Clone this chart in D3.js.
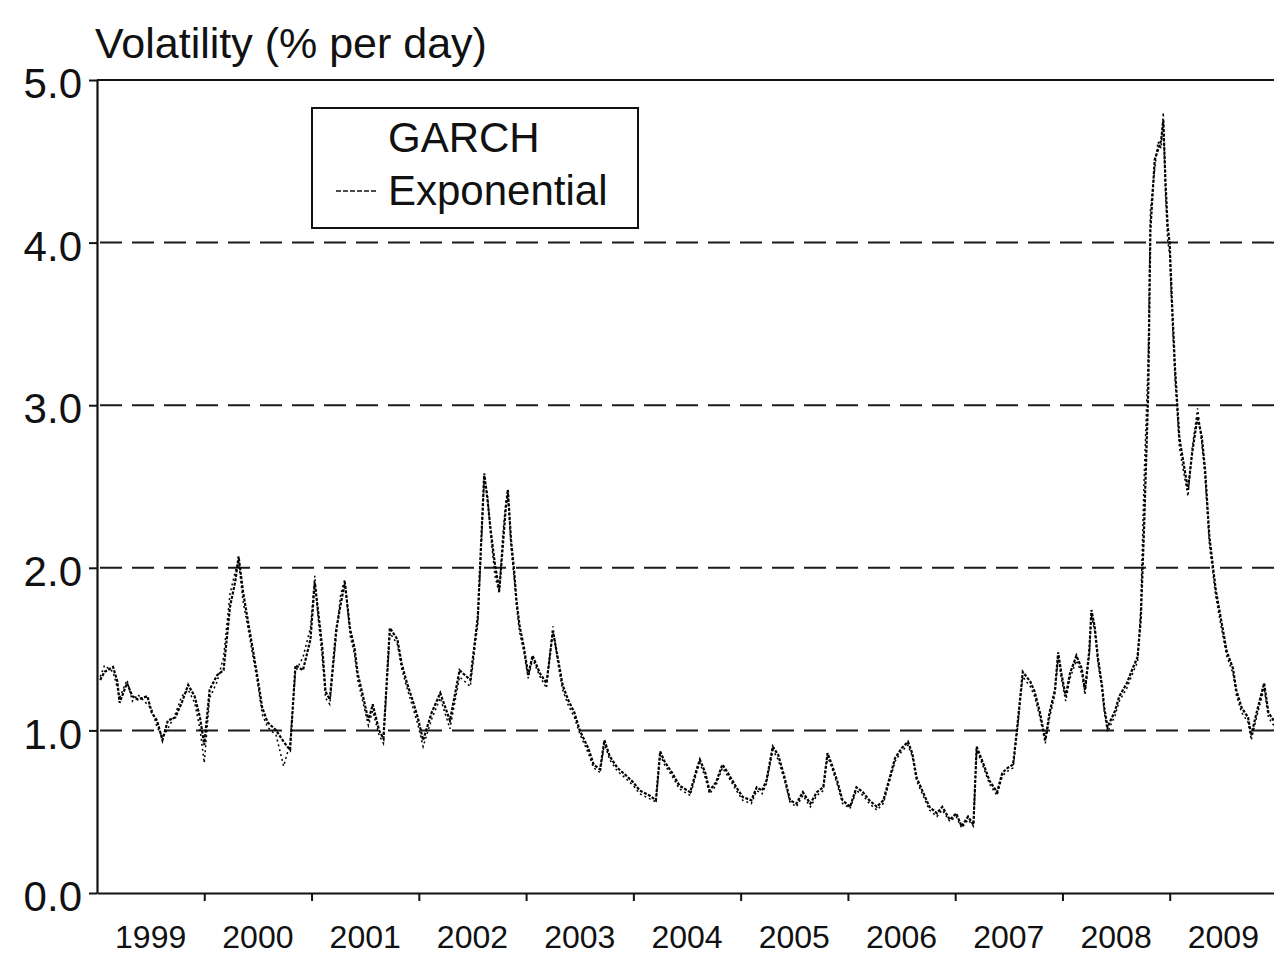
<!DOCTYPE html>
<html>
<head>
<meta charset="utf-8">
<script src="https://cdn.jsdelivr.net/npm/d3@7"></script>
<style>
  body { margin: 0; background: #fff; }
  svg { display: block; font-family: "Liberation Sans", Arial, sans-serif; }
  .grid { stroke: #1a1a1a; stroke-width: 2; stroke-dasharray: 22,10; }
  .frame { stroke: #111; stroke-width: 2; fill: none; }
</style>
</head>
<body>
<svg id="chart" width="1274" height="956"></svg>
<script>
// decimal-year dates
var dates = [1999.03,1999.07,1999.15,1999.19,1999.21,1999.28,1999.33,1999.38,1999.47,1999.51,1999.56,1999.61,1999.66,1999.73,1999.79,1999.85,1999.91,1999.96,
  2000.00,2000.05,2000.12,2000.18,2000.24,2000.29,2000.32,2000.36,2000.41,2000.45,2000.50,2000.54,2000.59,2000.67,2000.74,2000.80,2000.85,2000.92,2000.99,
  2001.03,2001.06,2001.10,2001.13,2001.17,2001.23,2001.27,2001.31,2001.36,2001.40,2001.43,2001.48,2001.53,2001.57,2001.63,2001.67,2001.73,2001.80,2001.84,2001.89,2001.94,2001.99,
  2002.04,2002.12,2002.20,2002.29,2002.38,2002.48,2002.55,2002.61,2002.64,2002.67,2002.71,2002.75,2002.78,2002.81,2002.83,2002.86,2002.89,2002.91,2002.94,2002.98,
  2003.02,2003.06,2003.13,2003.19,2003.25,2003.30,2003.34,2003.39,2003.45,2003.50,2003.58,2003.63,2003.69,2003.73,2003.78,2003.85,2003.92,
  2004.00,2004.06,2004.15,2004.21,2004.25,2004.29,2004.36,2004.43,2004.53,2004.59,2004.62,2004.67,2004.71,2004.77,2004.83,2004.88,2004.96,
  2005.02,2005.10,2005.15,2005.20,2005.24,2005.30,2005.35,2005.41,2005.46,2005.52,2005.58,2005.65,2005.71,2005.77,2005.81,2005.85,2005.90,2005.95,
  2006.02,2006.08,2006.14,2006.20,2006.27,2006.33,2006.39,2006.44,2006.50,2006.56,2006.60,2006.64,2006.70,2006.76,2006.83,2006.88,2006.95,
  2007.01,2007.06,2007.12,2007.17,2007.20,2007.26,2007.32,2007.39,2007.44,2007.49,2007.54,2007.58,2007.63,2007.70,2007.74,2007.79,2007.84,2007.88,2007.93,2007.96,2007.99,
  2008.03,2008.07,2008.13,2008.18,2008.21,2008.25,2008.27,2008.30,2008.33,2008.37,2008.39,2008.42,2008.49,2008.53,2008.60,2008.66,2008.70,2008.73,2008.76,2008.80,2008.82,2008.86,2008.89,2008.92,2008.94,2008.96,2008.98,
  2009.00,2009.02,2009.05,2009.07,2009.09,2009.14,2009.17,2009.21,2009.26,2009.30,2009.33,2009.37,2009.43,2009.49,2009.53,2009.59,2009.62,2009.67,2009.73,2009.76,2009.81,2009.88,2009.92,2009.97];

var garch = [1.31,1.36,1.39,1.30,1.17,1.29,1.21,1.19,1.21,1.11,1.06,0.94,1.06,1.08,1.17,1.28,1.21,1.08,
  0.91,1.25,1.34,1.37,1.76,1.92,2.07,1.86,1.66,1.51,1.31,1.14,1.05,1.00,0.93,0.88,1.40,1.37,1.56,
  1.91,1.74,1.51,1.24,1.19,1.62,1.77,1.91,1.62,1.51,1.35,1.21,1.06,1.16,1.00,0.95,1.63,1.56,1.41,1.29,1.19,1.08,
  0.94,1.11,1.23,1.06,1.37,1.31,1.70,2.58,2.42,2.23,2.02,1.86,2.11,2.36,2.48,2.17,1.97,1.80,1.64,1.51,
  1.34,1.46,1.35,1.29,1.61,1.43,1.28,1.19,1.11,1.00,0.89,0.79,0.76,0.94,0.84,0.77,0.73,
  0.68,0.63,0.60,0.57,0.87,0.81,0.74,0.66,0.62,0.76,0.82,0.74,0.63,0.68,0.79,0.74,0.65,
  0.59,0.57,0.65,0.63,0.69,0.90,0.85,0.71,0.57,0.55,0.62,0.55,0.62,0.65,0.86,0.79,0.69,0.57,
  0.53,0.65,0.62,0.57,0.53,0.57,0.71,0.83,0.89,0.93,0.86,0.71,0.62,0.53,0.49,0.53,0.45,
  0.49,0.41,0.47,0.42,0.90,0.80,0.69,0.62,0.74,0.77,0.79,1.03,1.36,1.30,1.24,1.11,0.94,1.11,1.25,1.48,1.35,
  1.21,1.35,1.46,1.38,1.25,1.49,1.74,1.64,1.45,1.27,1.14,1.02,1.12,1.21,1.29,1.39,1.45,1.68,2.23,3.09,4.08,4.51,4.57,4.63,4.75,4.38,4.11,
  3.99,3.65,3.22,3.01,2.80,2.60,2.48,2.71,2.93,2.80,2.60,2.19,1.86,1.64,1.49,1.38,1.25,1.14,1.08,0.97,1.11,1.29,1.11,1.06];

var expo = [1.33,1.40,1.36,1.26,1.20,1.31,1.18,1.22,1.16,1.13,1.02,0.96,1.01,1.10,1.21,1.25,1.17,1.01,
  0.80,1.20,1.30,1.45,1.84,1.98,2.04,1.80,1.62,1.47,1.28,1.10,1.02,0.97,0.78,0.92,1.36,1.45,1.63,
  1.95,1.70,1.45,1.20,1.16,1.58,1.83,1.93,1.58,1.47,1.31,1.17,1.03,1.12,0.97,0.92,1.60,1.53,1.38,1.26,1.15,1.04,
  0.90,1.07,1.20,1.01,1.33,1.27,1.66,2.55,2.45,2.20,1.95,1.84,2.18,2.40,2.46,2.12,1.93,1.77,1.60,1.48,
  1.32,1.44,1.33,1.26,1.64,1.40,1.25,1.16,1.08,0.98,0.86,0.77,0.74,0.92,0.82,0.75,0.71,
  0.66,0.61,0.58,0.56,0.85,0.79,0.72,0.64,0.60,0.74,0.80,0.71,0.61,0.66,0.77,0.72,0.63,
  0.57,0.55,0.63,0.61,0.67,0.88,0.82,0.69,0.56,0.53,0.60,0.53,0.60,0.63,0.84,0.77,0.67,0.55,
  0.52,0.63,0.60,0.55,0.51,0.55,0.69,0.81,0.87,0.91,0.84,0.69,0.60,0.51,0.47,0.51,0.44,
  0.47,0.40,0.45,0.41,0.88,0.78,0.67,0.60,0.72,0.75,0.77,1.00,1.33,1.27,1.21,1.08,0.92,1.08,1.22,1.45,1.32,
  1.18,1.32,1.43,1.35,1.22,1.46,1.71,1.61,1.42,1.24,1.11,0.99,1.09,1.18,1.26,1.36,1.42,1.75,2.52,3.30,4.20,4.45,4.62,4.58,4.80,4.30,4.02,
  3.92,3.58,3.15,2.96,2.74,2.55,2.44,2.74,2.98,2.76,2.55,2.14,1.82,1.60,1.46,1.35,1.22,1.11,1.05,0.94,1.08,1.26,1.08,1.03];

var years = [1999, 2000, 2001, 2002, 2003, 2004, 2005, 2006, 2007, 2008, 2009];
var yTicks = [0, 1, 2, 3, 4, 5];
var gridValues = [1, 2, 3, 4];
var seriesNames = ['GARCH', 'Exponential'];

var plotLeft = 97, plotTop = 80, plotBottom = 893, plotRight = 1277;

var x = d3.scaleLinear().domain([1999, 2010]).range([plotLeft, plotRight]);
var y = d3.scaleLinear().domain([0, 5]).range([plotBottom, plotTop]);

var svg = d3.select('#chart');
svg.append('rect').attr('width', 1274).attr('height', 956).attr('fill', '#fff');

// dashed horizontal gridlines
svg.append('g').selectAll('line').data(gridValues)
    .enter().append('line')
    .attr('class', 'grid')
    .attr('x1', plotLeft + 3).attr('x2', plotRight)
    .attr('y1', function(d) { return y(d); })
    .attr('y2', function(d) { return y(d); });

// frame: top and right lines
svg.append('line').attr('class', 'frame').attr('x1', plotLeft).attr('x2', plotRight).attr('y1', plotTop).attr('y2', plotTop);
svg.append('line').attr('class', 'frame').attr('x1', plotRight).attr('x2', plotRight).attr('y1', plotTop).attr('y2', plotBottom);

var yAxis = d3.axisLeft(y).tickValues(yTicks).tickFormat(d3.format('.1f')).tickSize(8).tickSizeOuter(0).tickPadding(7);
var gy = svg.append('g').attr('transform', 'translate(' + plotLeft + ',0)').call(yAxis);
gy.select('.domain').attr('stroke', '#111').attr('stroke-width', 2.2);
gy.selectAll('.tick line').attr('stroke', '#111').attr('stroke-width', 2);
gy.selectAll('.tick text').attr('font-size', 42).attr('fill', '#111').attr('dy', '0.42em')
    .attr('font-family', '"Liberation Sans", Arial, sans-serif');

// year boundary ticks
var xAxis = d3.axisBottom(x).tickValues(d3.range(2000, 2010)).tickSize(8).tickSizeOuter(0).tickFormat('');
var gx = svg.append('g').attr('transform', 'translate(0,' + plotBottom + ')').call(xAxis);
gx.select('.domain').attr('stroke', '#111').attr('stroke-width', 2.2);
gx.selectAll('.tick line').attr('stroke', '#111').attr('stroke-width', 2);

// year labels centred in each year
svg.append('g').selectAll('text').data(years)
    .enter().append('text')
    .attr('x', function(d) { return x(d + 0.5); })
    .attr('y', 948)
    .attr('text-anchor', 'middle')
    .attr('font-size', 32)
    .attr('fill', '#111')
    .text(function(d) { return d; });

// title
svg.append('text').attr('x', 95).attr('y', 58).attr('font-size', 43).attr('fill', '#111')
    .text('Volatility (% per day)');

// series
function lineFor(values) {
    return d3.line()
        .x(function(d, i) { return x(dates[i]); })
        .y(function(d) { return y(d); })(values);
}
svg.append('path').attr('d', lineFor(garch))
    .attr('fill', 'none').attr('stroke', '#000').attr('stroke-width', 2.2)
    .attr('stroke-dasharray', '3,1.5');
svg.append('path').attr('d', lineFor(expo))
    .attr('fill', 'none').attr('stroke', '#000').attr('stroke-width', 1.5)
    .attr('stroke-dasharray', '2,3');

// legend
var lg = svg.append('g');
lg.append('rect').attr('x', 312).attr('y', 108).attr('width', 326).attr('height', 120)
    .attr('fill', '#fff').attr('stroke', '#111').attr('stroke-width', 2);
lg.append('text').attr('x', 388).attr('y', 152).attr('font-size', 42).attr('fill', '#111').text(seriesNames[0]);
lg.append('line').attr('x1', 336).attr('x2', 378).attr('y1', 191).attr('y2', 191)
    .attr('stroke', '#111').attr('stroke-width', 1.5).attr('stroke-dasharray', '5,2');
lg.append('text').attr('x', 388).attr('y', 205).attr('font-size', 42).attr('fill', '#111').text(seriesNames[1]);
</script>
</body>
</html>
